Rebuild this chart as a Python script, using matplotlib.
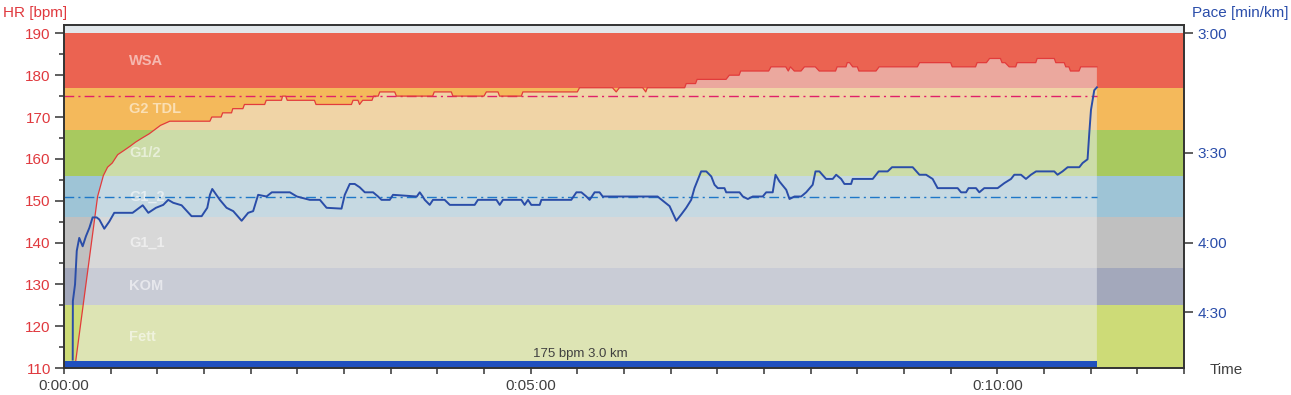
import numpy as np
import matplotlib
matplotlib.use("Agg")
import matplotlib.pyplot as plt
from matplotlib.ticker import MultipleLocator, FuncFormatter, FixedLocator

plt.rcParams['font.family'] = ['Liberation Sans', 'DejaVu Sans']

# ---------------- data ----------------
zone_names = ["Fett", "KOM", "G1_1", "G1_2", "G1/2", "G2 TDL", "WSA"]
zone_lo = [110, 125, 134, 146, 156, 167, 177]
zone_hi = [125, 134, 146, 156, 167, 177, 190]
zone_full = ["#CDDB77", "#A3A8BB", "#C0C0C0", "#9EC4D6", "#A8C95F", "#F4B95B", "#EB6351"]
zone_faded = ["#DDE4B4", "#C9CCD6", "#D8D8D8", "#C6D9E2", "#CCDCA8", "#F0D4A6", "#EBA89E"]

hr_time = [7.3, 21.6, 25.3, 28, 31, 34.5, 38.5, 42.4, 46, 50.3, 54.8, 58.4, 62, 68,
           93.8, 95, 101, 102, 107.7, 108.5, 115, 116, 129, 130, 139.8, 140.5, 142.5,
           143.5, 161, 162, 184.8, 185.8, 189, 190, 192, 198, 199, 202, 203, 212.6,
           213.7, 237, 238, 249, 250, 270, 271.5, 279, 280, 294, 295, 330,
           331.4, 352.6, 355, 357, 372, 374, 375, 399, 400, 406, 407, 425.6,
           427.7, 434, 435, 453, 454.5, 464, 465.6, 467, 469.5, 473.8, 476, 483,
           485.5, 496, 497, 502.7, 503.5, 505, 507, 510, 511, 522, 524, 548.6,
           550, 570, 571, 586, 587, 593, 595, 602, 603, 605, 607.6, 611.8,
           612.7, 624.7, 625.6, 636.6, 637.6, 643, 644, 646, 647, 652.5, 653.6, 664]
hr_bpm = [111, 151, 156, 158, 159, 161, 162, 163, 164, 165, 166, 167, 168, 169,
          169, 170, 170, 171, 171, 172, 172, 173, 173, 174, 174, 175, 175,
          174, 174, 173, 173, 174, 174, 173, 174, 174, 175, 175, 176, 176,
          175, 175, 176, 176, 175, 175, 176, 176, 175, 175, 176, 176,
          177, 177, 176, 177, 177, 176, 177, 177, 178, 178, 179, 179,
          180, 180, 181, 181, 182, 182, 181, 182, 181, 181, 182, 182,
          181, 181, 182, 182, 183, 183, 182, 182, 181, 181, 182, 182,
          183, 183, 182, 182, 183, 183, 184, 184, 183, 183, 182, 182,
          183, 183, 184, 184, 183, 183, 182, 182, 181, 181, 182, 182]

speed_time = [5.6, 5.7, 7.1, 7.7, 8.2, 9.8, 12.0, 14.1, 16.3, 18.4, 21.0, 22.7, 25.9, 29.1,
              32.3, 44.1, 50.6, 54.2, 59.1, 63.8, 67.0, 70.2, 75.6, 82.0, 88.5, 92.1,
              93.8, 95.3, 100.2, 104.5, 108.8, 114.2, 118.4, 121.6, 124.8, 130.2,
              133.6, 145.2, 149.7, 158.0, 164.5, 168.8, 178.4, 180.5, 183.7, 186.9,
              190.1, 193.4, 198.7, 201.9, 204.1, 209.4, 211.5, 226.8, 228.7, 230.6,
              231.9, 235.1, 237.2, 244.7, 248.0, 264.0, 266.1, 278.0, 280.1, 282.2,
              294.0, 296.1, 298.3, 300.4, 305.8, 306.9, 326.1, 329.4, 332.6, 335.8,
              337.9, 341.1, 344.3, 346.3, 381.6, 382.9, 389.3, 393.6, 396.8, 400.0,
              403.2, 405.3, 409.6, 412.9, 416.1, 418.2, 420.3, 424.6, 425.7, 434.3,
              436.4, 439.6, 442.8, 449.2, 451.4, 455.6, 457.4, 459.9, 464.3, 466.4,
              469.6, 473.9, 477.1, 481.3, 483.1, 485.6, 489.9, 494.2, 496.4, 499.6,
              501.7, 506.0, 507.0, 519.9, 523.7, 529.5, 532.3, 545.6, 549.9, 554.2,
              558.4, 561.6, 574.5, 576.7, 579.9, 581.5, 586.3, 588.4, 591.6, 600.2,
              604.5, 608.8, 610.9, 615.2, 618.4, 621.6, 624.9, 636.6, 638.7, 641.9,
              645.2, 652.7, 654.8, 658.0, 659.1, 660.2, 661.2, 662.3, 664.0]
speed_kmh = [12.2, 13.6, 14.0, 14.44, 14.8, 15.11, 14.91, 15.15, 15.35, 15.6, 15.6, 15.55, 15.33, 15.5,
             15.71, 15.71, 15.89, 15.71, 15.83, 15.9, 16.02, 15.95, 15.89, 15.63, 15.63, 15.83,
             16.14, 16.28, 16.02, 15.83, 15.75, 15.52, 15.71, 15.75, 16.14, 16.1,
             16.2, 16.2, 16.1, 16.02, 16.02, 15.83, 15.81, 16.14, 16.4, 16.4,
             16.32, 16.2, 16.2, 16.1, 16.02, 16.02, 16.14, 16.1, 16.2, 16.1,
             16.02, 15.9, 16.02, 16.02, 15.9, 15.9, 16.02, 16.02, 15.9, 16.02,
             16.02, 15.9, 16.02, 15.9, 15.9, 16.02, 16.02, 16.2, 16.2, 16.1,
             16.02, 16.2, 16.2, 16.1, 16.1, 16.06, 15.87, 15.52, 15.67, 15.83,
             16.02, 16.3, 16.7, 16.7, 16.58, 16.38, 16.3, 16.3, 16.2, 16.2,
             16.1, 16.04, 16.1, 16.1, 16.2, 16.2, 16.62, 16.46, 16.26, 16.04,
             16.1, 16.1, 16.2, 16.38, 16.7, 16.7, 16.52, 16.52, 16.62, 16.52,
             16.4, 16.4, 16.52, 16.52, 16.7, 16.7, 16.8, 16.8, 16.62, 16.62,
             16.52, 16.3, 16.3, 16.2, 16.2, 16.3, 16.3, 16.2, 16.3, 16.3,
             16.42, 16.52, 16.62, 16.62, 16.52, 16.62, 16.7, 16.7, 16.62, 16.7,
             16.8, 16.8, 16.9, 16.99, 17.61, 18.17, 18.4, 18.64, 18.71]

target_hr = 175
target_speed = 16.1
lap_start, lap_end = 0, 664
lap_label = "175 bpm 3.0 km"
pace_tick_minutes = [3.0, 3.5, 4.0, 4.5]
pace_tick_labels = ["3:00", "3:30", "4:00", "4:30"]

hr_min, hr_max = 110, 192
speed_at_hr_min = 12.0
kmh_per_bpm = 0.1
t_max = 720

# ---------------- figure ----------------
W, H = 1291, 395
fig = plt.figure(figsize=(W / 100, H / 100), dpi=100)
ax = fig.add_axes([64 / W, 1 - 368 / H, (1184 - 64) / W, (368 - 25) / H])
ax.set_xlim(0, t_max)
ax.set_ylim(hr_min, hr_max)

# top band
ax.axhspan(zone_hi[-1], hr_max, color="#E2E7EB", lw=0, zorder=0.4)
# full zone bands
for lo, hi, c in zip(zone_lo, zone_hi, zone_full):
    ax.axhspan(lo, hi, color=c, lw=0, zorder=0.5)

# area under HR curve -> faded zone colours
poly = ax.fill_between(hr_time, hr_min, hr_bpm, facecolor="none", lw=0)
clip_path = poly.get_paths()[0]
for lo, hi, c in zip(zone_lo, zone_hi, zone_faded):
    r = ax.axhspan(lo, hi, color=c, lw=0, zorder=0.6)
    r.set_clip_path(clip_path, ax.transData)

# zone labels
for name, lo, hi in zip(zone_names, zone_lo, zone_hi):
    ax.text(42, (lo + hi) / 2, name, color="white", alpha=0.55, fontsize=10.5,
            fontweight="bold", ha="left", va="center", zorder=1)

# target HR line
ax.plot([lap_start, lap_end], [target_hr, target_hr], color="#E0206A", lw=1.0,
        dashes=(7, 3, 1.5, 3), zorder=2)
# HR line
ax.plot(hr_time, hr_bpm, color="#E23B3B", lw=0.9, zorder=3)

# lap bar
ax.fill_between([lap_start, lap_end], hr_min, hr_min + 1.7, color="#2050BE", lw=0, zorder=4)
ax.text((lap_start + lap_end) / 2, hr_min + 2.0, lap_label, ha="center", va="bottom",
        fontsize=9.5, color="#404040", zorder=4)

# axes styling
for s in ax.spines.values():
    s.set_color("#333333")
    s.set_linewidth(1.2)
    s.set_zorder(5)
ax.yaxis.set_major_locator(MultipleLocator(10))
ax.yaxis.set_minor_locator(MultipleLocator(5))
ax.xaxis.set_major_locator(MultipleLocator(300))
ax.xaxis.set_minor_locator(MultipleLocator(30))
ax.xaxis.set_major_formatter(FuncFormatter(
    lambda v, p: "%d:%02d:%02d" % (int(v) // 3600, (int(v) % 3600) // 60, int(v) % 60)))
ax.tick_params(axis="y", which="major", direction="out", length=6.5, width=1.1,
               color="#333333", labelcolor="#E0393E", labelsize=11, pad=3)
ax.tick_params(axis="y", which="minor", direction="out", length=3.5, width=1.1, color="#333333")
ax.tick_params(axis="x", which="both", direction="out", length=4, width=1.1,
               color="#333333", labelcolor="#404040", labelsize=11, pad=4)

# pace (speed) axis
ax2 = ax.twinx()
ax2.set_ylim(speed_at_hr_min, speed_at_hr_min + (hr_max - hr_min) * kmh_per_bpm)
ax2.yaxis.set_major_locator(FixedLocator([60.0 / m for m in pace_tick_minutes]))
ax2.set_yticklabels(pace_tick_labels)
ax2.tick_params(axis="y", direction="out", length=6.5, width=1.1, color="#333333",
                labelcolor="#2A4DAA", labelsize=11, pad=3)
for s in ax2.spines.values():
    s.set_color("#333333")
    s.set_linewidth(1.2)
ax2.plot([lap_start, lap_end], [target_speed, target_speed], color="#1E78C8", lw=1.0,
         dashes=(7, 3, 1.5, 3), zorder=2)
ax2.plot(speed_time, speed_kmh, color="#2A4DA8", lw=1.4, zorder=3)

# axis titles
fig.text(3 / W, 1 - 12.5 / H, "HR [bpm]", color="#E0393E", fontsize=11, ha="left", va="center")
fig.text(1289 / W, 1 - 12.5 / H, "Pace [min/km]", color="#2A4DAA", fontsize=11, ha="right", va="center")
fig.text(1210 / W, 1 - 370.5 / H, "Time", color="#404040", fontsize=11, ha="left", va="center")

fig.savefig("out.png", dpi=100)
